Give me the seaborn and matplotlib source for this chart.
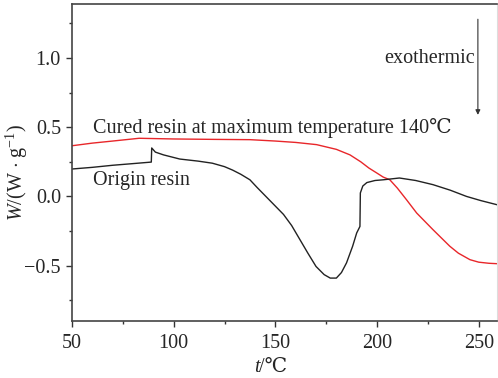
import pandas as pd
import matplotlib.pyplot as plt
import seaborn as sns
from matplotlib.ticker import MultipleLocator

# DSC curves
origin_t = [50, 60, 70, 80, 89, 89.2, 91, 95, 103, 112, 119, 125, 129, 133, 137.5,
            141, 144, 147, 150, 154, 158, 162, 166, 170, 174, 177, 180, 182.5, 185,
            188, 190, 191.6, 191.8, 193, 195, 199, 203, 211, 219, 227.5, 236, 244,
            251, 259]
origin_w = [0.198, 0.21, 0.225, 0.237, 0.248, 0.35, 0.32, 0.30, 0.27, 0.255, 0.24,
            0.215, 0.19, 0.16, 0.12, 0.065, 0.02, -0.025, -0.07, -0.13, -0.21, -0.31,
            -0.41, -0.506, -0.565, -0.59, -0.59, -0.55, -0.48, -0.36, -0.264, -0.217,
            0.025, 0.075, 0.10, 0.115, 0.12, 0.133, 0.115, 0.085, 0.045, 0.0, -0.03,
            -0.06]

cured_t = [50, 60, 70, 83, 100, 120, 137.5, 150, 160, 170.3, 180, 186.7, 192, 196,
           199.8, 203, 206.3, 210, 214.5, 219.5, 227.5, 235.8, 240, 245.7, 250, 255, 259]
cured_w = [0.366, 0.385, 0.40, 0.42, 0.415, 0.412, 0.41, 0.40, 0.39, 0.374, 0.34,
           0.30, 0.25, 0.205, 0.17, 0.14, 0.12, 0.06, -0.024, -0.12, -0.24, -0.36,
           -0.41, -0.457, -0.475, -0.483, -0.486]

origin = pd.DataFrame({'t': origin_t, 'w': origin_w})
cured = pd.DataFrame({'t': cured_t, 'w': cured_w})

sns.set_style('ticks')
plt.rcParams['font.family'] = ['Liberation Serif', 'DejaVu Serif']
plt.rcParams['mathtext.fontset'] = 'custom'
plt.rcParams['mathtext.rm'] = 'Liberation Serif'
plt.rcParams['mathtext.it'] = 'Liberation Serif:italic'
fs = 14.5

fig = plt.figure(figsize=(4.98, 3.78), dpi=100)
ax = fig.add_axes([72 / 498, 1 - 321 / 378, 425 / 498, 317 / 378])

sns.lineplot(data=cured, x='t', y='w', color='#e8262a', lw=1.0, ax=ax,
             estimator=None, sort=False)
sns.lineplot(data=origin, x='t', y='w', color='#222222', lw=1.0, ax=ax,
             estimator=None, sort=False)

ax.xaxis.set_minor_locator(MultipleLocator(25))
ax.yaxis.set_minor_locator(MultipleLocator(0.25))
ax.tick_params(which='major', direction='out', length=4, width=1, labelsize=fs,
               color='#333333')
ax.tick_params(axis='x', which='major', pad=5)
ax.tick_params(axis='y', which='major', pad=4)
ax.tick_params(which='minor', direction='out', length=2, width=1, color='#333333')
ax.set_xticks([50, 100, 150, 200, 250])
ax.set_xticklabels(['50', '100', '150', '200', '250'])
ax.set_yticks([-0.5, 0.0, 0.5, 1.0])
ax.set_yticklabels(['\u22120.5', '0.0', '0.5', '1.0'])
ax.set_xlim(50, 259)
ax.set_ylim(-0.9, 1.39)

for s in ['left', 'bottom', 'top']:
    ax.spines[s].set_color('#444444')
    ax.spines[s].set_linewidth(1.2)
ax.spines['right'].set_color('#dddddd')

# x label: italic t followed by /℃
ax.set_xlabel('')
ax.text(0.442, -0.147, 't', style='italic', fontsize=fs, ha='right', va='center',
        transform=ax.transAxes)
ax.text(0.440, -0.147, '/\u2103', fontsize=fs, ha='left', va='center',
        transform=ax.transAxes)
ax.set_ylabel('$W$/(W $\\cdot$ g$^{-1}$)', fontsize=fs)
ax.yaxis.set_label_coords(-0.099, 0.47)

ax.text(60.5, 0.46, 'Cured resin at maximum temperature 140\u2103', fontsize=fs)
ax.text(60.5, 0.08, 'Origin resin', fontsize=fs)
ax.text(248.1, 0.995, 'exothermic', fontsize=fs, ha='right', va='center')
ax.annotate('', xy=(249.6, 0.569), xytext=(249.6, 1.30),
            arrowprops=dict(arrowstyle='-|>', color='#333333', lw=0.8,
                            mutation_scale=7))

fig.savefig('out.png', dpi=100)
